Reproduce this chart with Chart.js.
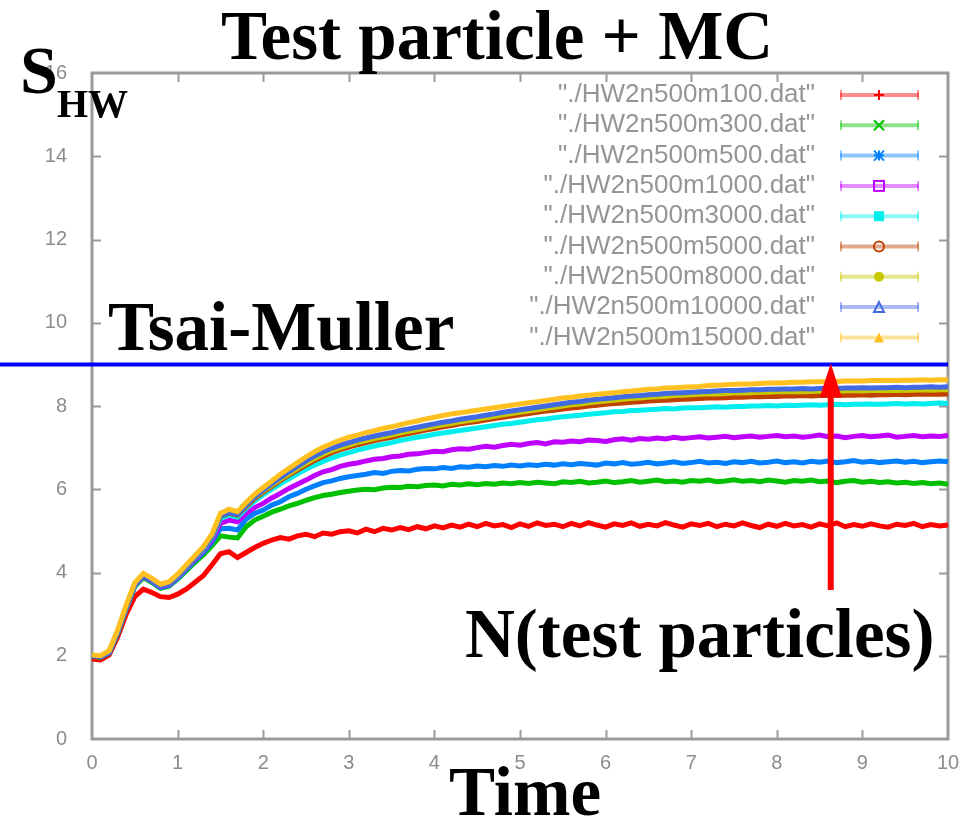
<!DOCTYPE html>
<html><head><meta charset="utf-8">
<script src="https://cdn.jsdelivr.net/npm/chart.js@4/dist/chart.umd.min.js"></script>
<style>html,body{margin:0;padding:0;background:#fff;}#wrap{width:979px;height:821px;position:relative;}</style>
</head><body><div id="wrap"><canvas id="c" width="979" height="821"></canvas></div>
<script>
const times = [0,0.1,0.2,0.3,0.4,0.5,0.6,0.7,0.8,0.9,
1,1.1,1.2,1.3,1.4,1.5,1.6,1.7,1.8,1.9,
2,2.1,2.2,2.3,2.4,2.5,2.6,2.7,2.8,2.9,
3,3.1,3.2,3.3,3.4,3.5,3.6,3.7,3.8,3.9,
4,4.1,4.2,4.3,4.4,4.5,4.6,4.7,4.8,4.9,
5,5.1,5.2,5.3,5.4,5.5,5.6,5.7,5.8,5.9,
6,6.1,6.2,6.3,6.4,6.5,6.6,6.7,6.8,6.9,
7,7.1,7.2,7.3,7.4,7.5,7.6,7.7,7.8,7.9,
8,8.1,8.2,8.3,8.4,8.5,8.6,8.7,8.8,8.9,
9,9.1,9.2,9.3,9.4,9.5,9.6,9.7,9.8,9.9,
10];

const seriesNames = ['"./HW2n500m100.dat"','"./HW2n500m300.dat"','"./HW2n500m500.dat"','"./HW2n500m1000.dat"','"./HW2n500m3000.dat"','"./HW2n500m5000.dat"','"./HW2n500m8000.dat"','"./HW2n500m10000.dat"','"./HW2n500m15000.dat"'];
const seriesColors = ['#ff0000','#00c000','#0080ff','#c000ff','#00eeee','#c04000','#c8c800','#4169e1','#ffc020'];

const m100 = [1.92,1.90,2.02,2.45,3.00,3.42,3.60,3.52,3.42,3.40,
3.48,3.60,3.76,3.92,4.18,4.45,4.50,4.36,4.48,4.60,
4.70,4.78,4.84,4.80,4.88,4.92,4.86,4.95,4.92,4.98,
5.00,4.95,5.04,4.98,5.06,5.02,5.08,5.03,5.10,5.05,
5.12,5.07,5.14,5.09,5.16,5.10,5.18,5.12,5.15,5.08,
5.17,5.11,5.19,5.13,5.16,5.10,5.18,5.12,5.20,5.14,
5.09,5.17,5.13,5.19,5.11,5.16,5.12,5.20,5.14,5.09,
5.17,5.13,5.18,5.10,5.16,5.12,5.19,5.13,5.08,5.16,
5.11,5.18,5.12,5.15,5.09,5.17,5.12,5.19,5.10,5.15,
5.11,5.17,5.12,5.09,5.16,5.13,5.18,5.10,5.15,5.12,
5.14];
const m300 = [1.99,1.96,2.06,2.53,3.12,3.66,3.88,3.76,3.62,3.67,
3.84,4.04,4.24,4.42,4.64,4.88,4.85,4.83,5.10,5.26,
5.35,5.45,5.52,5.60,5.66,5.73,5.80,5.85,5.88,5.92,
5.95,5.98,6.00,5.99,6.03,6.05,6.04,6.07,6.06,6.09,
6.10,6.08,6.12,6.10,6.13,6.11,6.14,6.12,6.15,6.13,
6.16,6.14,6.17,6.15,6.13,6.18,6.16,6.19,6.15,6.17,
6.20,6.16,6.18,6.21,6.17,6.19,6.22,6.18,6.20,6.17,
6.21,6.19,6.22,6.18,6.20,6.23,6.19,6.21,6.18,6.22,
6.20,6.17,6.21,6.19,6.22,6.18,6.20,6.16,6.19,6.21,
6.17,6.19,6.16,6.18,6.15,6.17,6.14,6.16,6.13,6.15,
6.12];
const m500 = [2.00,1.97,2.07,2.55,3.14,3.68,3.90,3.78,3.64,3.69,
3.86,4.07,4.28,4.48,4.72,5.05,5.06,5.02,5.28,5.42,
5.50,5.62,5.70,5.82,5.90,6.00,6.08,6.16,6.20,6.26,
6.30,6.33,6.36,6.40,6.38,6.43,6.45,6.44,6.48,6.50,
6.49,6.52,6.50,6.54,6.53,6.56,6.54,6.57,6.55,6.58,
6.56,6.59,6.57,6.60,6.58,6.61,6.59,6.62,6.60,6.58,
6.63,6.61,6.64,6.60,6.62,6.65,6.61,6.63,6.66,6.62,
6.64,6.67,6.63,6.65,6.62,6.66,6.64,6.67,6.63,6.65,
6.68,6.64,6.66,6.63,6.67,6.65,6.68,6.64,6.66,6.69,
6.65,6.67,6.64,6.66,6.68,6.65,6.67,6.64,6.66,6.68,
6.66];
const m1000 = [2.00,1.98,2.08,2.56,3.15,3.70,3.92,3.80,3.66,3.71,
3.88,4.10,4.31,4.52,4.78,5.18,5.26,5.22,5.42,5.56,
5.66,5.79,5.90,6.02,6.12,6.22,6.33,6.42,6.47,6.55,
6.60,6.63,6.68,6.72,6.74,6.78,6.80,6.84,6.85,6.88,
6.91,6.90,6.95,6.97,6.96,7.00,7.03,7.01,7.05,7.08,
7.06,7.10,7.12,7.09,7.14,7.13,7.16,7.14,7.18,7.17,
7.15,7.19,7.21,7.18,7.22,7.20,7.23,7.21,7.25,7.22,
7.24,7.26,7.23,7.25,7.27,7.24,7.26,7.28,7.25,7.27,
7.29,7.26,7.28,7.25,7.27,7.30,7.26,7.28,7.24,7.27,
7.29,7.26,7.28,7.30,7.25,7.27,7.29,7.26,7.28,7.27,
7.29];
const m3000 = [2.01,1.99,2.09,2.57,3.16,3.71,3.93,3.81,3.68,3.73,
3.90,4.12,4.34,4.55,4.83,5.30,5.38,5.33,5.54,5.72,
5.87,6.00,6.13,6.25,6.37,6.48,6.58,6.67,6.75,6.82,
6.88,6.94,6.99,7.04,7.08,7.12,7.17,7.21,7.25,7.28,
7.32,7.35,7.38,7.41,7.44,7.47,7.50,7.53,7.56,7.58,
7.61,7.64,7.67,7.69,7.72,7.74,7.76,7.78,7.80,7.82,
7.84,7.86,7.87,7.89,7.90,7.91,7.92,7.94,7.93,7.95,
7.96,7.96,7.97,7.98,7.97,7.99,7.99,8.00,8.00,8.01,
8.00,8.02,8.01,8.02,8.03,8.02,8.03,8.04,8.03,8.04,
8.04,8.05,8.04,8.05,8.06,8.05,8.06,8.05,8.06,8.07,
8.06];
const m5000 = [2.00,1.98,2.09,2.58,3.18,3.73,3.94,3.82,3.69,3.74,
3.92,4.14,4.36,4.58,4.86,5.35,5.43,5.38,5.59,5.78,
5.93,6.07,6.21,6.34,6.46,6.58,6.69,6.79,6.88,6.95,
7.01,7.07,7.12,7.17,7.21,7.25,7.30,7.34,7.38,7.42,
7.46,7.50,7.53,7.57,7.60,7.63,7.66,7.70,7.73,7.76,
7.79,7.82,7.85,7.88,7.90,7.93,7.95,7.97,8.00,8.02,
8.04,8.06,8.07,8.09,8.10,8.12,8.13,8.14,8.15,8.16,
8.17,8.18,8.19,8.19,8.20,8.21,8.21,8.22,8.22,8.23,
8.23,8.24,8.24,8.25,8.24,8.25,8.26,8.25,8.26,8.26,
8.27,8.26,8.27,8.27,8.28,8.27,8.28,8.28,8.29,8.28,
8.29];
const m8000 = [2.01,1.99,2.10,2.60,3.20,3.74,3.95,3.83,3.70,3.75,
3.93,4.15,4.37,4.59,4.88,5.38,5.46,5.41,5.62,5.81,
5.96,6.10,6.24,6.37,6.50,6.62,6.74,6.84,6.93,7.00,
7.06,7.12,7.17,7.22,7.26,7.30,7.35,7.39,7.43,7.47,
7.51,7.55,7.58,7.62,7.65,7.68,7.72,7.75,7.79,7.82,
7.85,7.88,7.91,7.94,7.97,8.00,8.03,8.05,8.08,8.10,
8.12,8.14,8.16,8.18,8.19,8.21,8.22,8.23,8.25,8.26,
8.27,8.28,8.29,8.29,8.30,8.31,8.31,8.32,8.33,8.33,
8.34,8.34,8.35,8.34,8.35,8.36,8.35,8.36,8.36,8.37,
8.36,8.37,8.37,8.38,8.37,8.38,8.38,8.39,8.38,8.39,
8.39];
const m10000 = [2.00,1.98,2.08,2.58,3.18,3.72,3.94,3.82,3.68,3.74,
3.92,4.14,4.36,4.58,4.86,5.36,5.44,5.40,5.62,5.82,
5.98,6.13,6.28,6.42,6.55,6.68,6.80,6.90,6.99,7.06,
7.12,7.18,7.23,7.28,7.32,7.36,7.41,7.45,7.49,7.53,
7.57,7.61,7.64,7.68,7.71,7.74,7.78,7.81,7.85,7.88,
7.91,7.94,7.97,8.00,8.03,8.06,8.09,8.11,8.14,8.16,
8.18,8.20,8.22,8.24,8.25,8.27,8.28,8.30,8.31,8.32,
8.33,8.34,8.35,8.36,8.37,8.37,8.38,8.39,8.39,8.40,
8.40,8.41,8.41,8.42,8.41,8.42,8.43,8.42,8.43,8.43,
8.44,8.43,8.44,8.44,8.45,8.44,8.45,8.45,8.46,8.45,
8.46];
const m15000 = [2.02,2.00,2.12,2.62,3.22,3.76,3.98,3.86,3.72,3.78,
3.96,4.18,4.40,4.62,4.92,5.42,5.52,5.46,5.68,5.88,
6.04,6.20,6.36,6.50,6.64,6.78,6.90,7.01,7.10,7.18,
7.25,7.30,7.36,7.41,7.46,7.50,7.55,7.60,7.64,7.69,
7.73,7.77,7.81,7.84,7.87,7.90,7.93,7.96,7.99,8.02,
8.05,8.08,8.10,8.13,8.16,8.19,8.21,8.24,8.26,8.28,
8.30,8.32,8.34,8.36,8.38,8.40,8.41,8.43,8.44,8.45,
8.46,8.47,8.49,8.50,8.51,8.52,8.53,8.53,8.54,8.55,
8.55,8.56,8.57,8.57,8.58,8.58,8.59,8.59,8.60,8.60,
8.60,8.61,8.61,8.62,8.61,8.62,8.62,8.63,8.62,8.63,
8.63];

const seriesValues = [m100, m300, m500, m1000, m3000, m5000, m8000, m10000, m15000];
const xTicks = [0,1,2,3,4,5,6,7,8,9,10];
const yTicks = [0,2,4,6,8,10,12,14,16];
const tsaiMuller = 9;
const arrowX = 8.63, arrowFrom = 3.58, arrowTo = 9.03;
const markerTypes = ['plus','cross','star','rectOpen','rect','circleOpen','circle','triOpen','tri'];

const SERIF = '"Liberation Serif", "Times New Roman", serif';
const SANS = '"Liberation Sans", Arial, sans-serif';

function hexA(hex, a){
  const r=parseInt(hex.slice(1,3),16), g=parseInt(hex.slice(3,5),16), b=parseInt(hex.slice(5,7),16);
  return `rgba(${r},${g},${b},${a})`;
}

function drawMarker(ctx, type, x, y, color){
  const s = 5;
  ctx.save();
  ctx.strokeStyle = color; ctx.fillStyle = color; ctx.lineWidth = 2;
  ctx.beginPath();
  switch(type){
    case 'plus': ctx.moveTo(x, y-s); ctx.lineTo(x, y+s); ctx.moveTo(x-s,y); ctx.lineTo(x+s,y); ctx.stroke(); break;
    case 'cross': ctx.moveTo(x-s,y-s); ctx.lineTo(x+s,y+s); ctx.moveTo(x-s,y+s); ctx.lineTo(x+s,y-s); ctx.stroke(); break;
    case 'star': ctx.moveTo(x, y-s); ctx.lineTo(x, y+s); ctx.moveTo(x-s,y); ctx.lineTo(x+s,y); ctx.moveTo(x-s,y-s); ctx.lineTo(x+s,y+s); ctx.moveTo(x-s,y+s); ctx.lineTo(x+s,y-s); ctx.stroke(); break;
    case 'rectOpen': ctx.strokeRect(x-s, y-s, 2*s, 2*s); break;
    case 'rect': ctx.fillRect(x-s, y-s, 2*s, 2*s); break;
    case 'circleOpen': ctx.arc(x, y, s, 0, Math.PI*2); ctx.stroke(); break;
    case 'circle': ctx.arc(x, y, s, 0, Math.PI*2); ctx.fill(); break;
    case 'triOpen': ctx.moveTo(x, y-s); ctx.lineTo(x+s, y+s); ctx.lineTo(x-s, y+s); ctx.closePath(); ctx.stroke(); break;
    case 'tri': ctx.moveTo(x, y-s); ctx.lineTo(x+s, y+s); ctx.lineTo(x-s, y+s); ctx.closePath(); ctx.fill(); break;
  }
  ctx.restore();
}

const decor = {
  id: 'decor',
  beforeDatasetsDraw(chart){
    const {ctx, chartArea: a, scales: {x, y}} = chart;
    ctx.save();
    ctx.strokeStyle = '#9a9a9a';
    ctx.lineWidth = 3;
    ctx.strokeRect(a.left, a.top, a.right - a.left, a.bottom - a.top);
    ctx.lineWidth = 2;
    ctx.beginPath();
    yTicks.forEach(v => {
      if (v === yTicks[0] || v === yTicks[yTicks.length-1]) return;
      const py = Math.round(y.getPixelForValue(v)) + 0.5;
      ctx.moveTo(a.left, py); ctx.lineTo(a.left + 9, py);
      ctx.moveTo(a.right, py); ctx.lineTo(a.right - 9, py);
    });
    xTicks.forEach(v => {
      if (v === xTicks[0] || v === xTicks[xTicks.length-1]) return;
      const px = Math.round(x.getPixelForValue(v)) + 0.5;
      ctx.moveTo(px, a.bottom); ctx.lineTo(px, a.bottom - 9);
      ctx.moveTo(px, a.top); ctx.lineTo(px, a.top + 9);
    });
    ctx.stroke();
    ctx.restore();
  },
  afterDraw(chart){
    const {ctx, chartArea: a, scales: {x, y}} = chart;
    ctx.save();
    // Tsai-Muller line
    const ty = y.getPixelForValue(tsaiMuller);
    ctx.strokeStyle = '#0000ff';
    ctx.lineWidth = 4;
    ctx.beginPath(); ctx.moveTo(0, ty); ctx.lineTo(a.right, ty); ctx.stroke();

    // legend
    const rowY0 = 95, rowDy = 30.3;
    ctx.font = '26px ' + SANS;
    ctx.textAlign = 'right';
    ctx.textBaseline = 'middle';
    seriesNames.forEach((name, i) => {
      const ry = rowY0 + i * rowDy;
      ctx.fillStyle = '#959595';
      ctx.fillText(name, 815, ry);
      const c = seriesColors[i];
      ctx.strokeStyle = hexA(c, 0.45);
      ctx.lineWidth = 4;
      ctx.beginPath(); ctx.moveTo(840, ry); ctx.lineTo(919, ry); ctx.stroke();
      ctx.lineWidth = 2;
      ctx.beginPath(); ctx.moveTo(841, ry-5); ctx.lineTo(841, ry+5); ctx.moveTo(918, ry-5); ctx.lineTo(918, ry+5); ctx.stroke();
      drawMarker(ctx, markerTypes[i], 879, ry, c);
    });

    // arrow
    const ax = x.getPixelForValue(arrowX);
    const ay0 = y.getPixelForValue(arrowFrom);
    const ay1 = y.getPixelForValue(arrowTo);
    ctx.strokeStyle = '#ff0000'; ctx.fillStyle = '#ff0000';
    ctx.lineWidth = 6;
    ctx.beginPath(); ctx.moveTo(ax, ay0); ctx.lineTo(ax, ay1 + 30); ctx.stroke();
    ctx.beginPath(); ctx.moveTo(ax, ay1); ctx.lineTo(ax + 11, ay1 + 34); ctx.lineTo(ax - 11, ay1 + 34); ctx.closePath(); ctx.fill();

    // texts
    ctx.fillStyle = '#000';
    ctx.textBaseline = 'alphabetic';
    ctx.font = 'bold 69px ' + SERIF;
    ctx.textAlign = 'center';
    ctx.fillText('Test particle + MC', 497, 59);
    ctx.fillText('Time', 525, 815);
    ctx.textAlign = 'left';
    ctx.fillText('Tsai-Muller', 108, 350);
    ctx.fillText('N(test particles)', 465, 657);
    ctx.font = 'bold 68px ' + SERIF;
    ctx.fillText('S', 20, 93);
    ctx.font = 'bold 40px ' + SERIF;
    ctx.fillText('HW', 57, 117);
    ctx.restore();
  }
};

const datasets = seriesValues.map((vals, i) => ({
  label: seriesNames[i],
  data: vals.map((v, j) => ({x: times[j], y: v})),
  borderColor: seriesColors[i],
  backgroundColor: seriesColors[i],
  borderWidth: 5,
  pointRadius: 0,
  tension: 0,
  fill: false,
  order: seriesValues.length - 1 - i,
  clip: 3
}));

new Chart(document.getElementById('c'), {
  type: 'line',
  data: { datasets },
  options: {
    responsive: false,
    animation: false,
    devicePixelRatio: 1,
    layout: { padding: { left: 0, top: 73, right: 31, bottom: 0 } },
    plugins: { legend: { display: false }, title: { display: false }, tooltip: { enabled: false } },
    scales: {
      x: {
        type: 'linear', min: 0, max: 10,
        afterBuildTicks: s => { s.ticks = xTicks.map(v => ({value: v})); },
        afterFit: s => { s.height = 82; },
        ticks: { font: { family: SANS, size: 20 }, color: '#8c8c8c', padding: 12, maxRotation: 0, autoSkip: false },
        grid: { display: false, drawTicks: false },
        border: { display: false }
      },
      y: {
        type: 'linear', min: 0, max: 16,
        afterBuildTicks: s => { s.ticks = yTicks.map(v => ({value: v})); },
        afterFit: s => { s.width = 92; },
        ticks: { font: { family: SANS, size: 20 }, color: '#8c8c8c', padding: 25 },
        grid: { display: false, drawTicks: false },
        border: { display: false }
      }
    }
  },
  plugins: [decor]
});
</script>
</body></html>
